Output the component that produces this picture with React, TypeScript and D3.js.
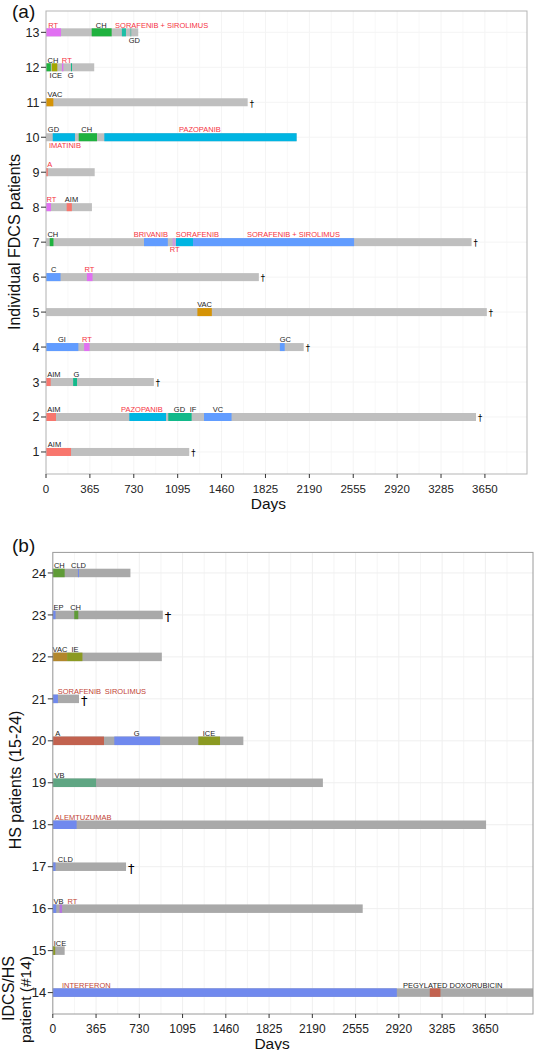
import React from "react";
import * as d3 from "d3";

// ---------- Panel (a): FDCS patients ----------
const patientsA = [1, 2, 3, 4, 5, 6, 7, 8, 9, 10, 11, 12, 13];
// follow-up end (days) per patient 1..13
const followUpA = [1191, 3576, 897, 2143, 3666, 1770, 3539, 382, 405, 2084, 1677, 401, 767];
const deathsA = [1, 2, 3, 4, 5, 6, 7, 11];
// [patient, start, end, treatment group]
const segmentsA: [number, number, number, string][] = [
  [13, 0, 125, "RT"], [13, 380, 546, "CH"], [13, 631, 665, "SS"], [13, 698, 710, "GDT"],
  [12, 0, 40, "CH"], [12, 48, 94, "ICE"], [12, 133, 144, "RT"], [12, 208, 216, "TEAL"],
  [11, 0, 61, "VAC"],
  [10, 56, 241, "CYAN"], [10, 272, 424, "CH"], [10, 485, 2084, "CYAN"],
  [9, 0, 15, "AIM"],
  [8, 0, 42, "RT"], [8, 172, 215, "AIM"],
  [7, 31, 62, "CH"], [7, 815, 1013, "BLUE"], [7, 1053, 1076, "RTL"], [7, 1081, 1223, "CYAN"], [7, 1223, 2562, "BLUE"],
  [6, 0, 121, "BLUE"], [6, 340, 387, "RT"],
  [5, 1259, 1379, "VAC"],
  [4, 0, 269, "BLUE"], [4, 317, 362, "RT"], [4, 1945, 1985, "BLUE"],
  [3, 0, 39, "AIM"], [3, 226, 258, "TEAL"],
  [2, 0, 83, "AIM"], [2, 693, 998, "CYAN"], [2, 1017, 1211, "TEAL"], [2, 1314, 1543, "BLUE"],
  [1, 0, 208, "AIM"],
];
// [patient, centre day, text, isRed, below]
const labelsA: [number, number, string, boolean, boolean][] = [
  [13, 60, "RT", true, false], [13, 459, "CH", false, false], [13, 962, "SORAFENIB + SIROLIMUS", true, false], [13, 734, "GD", false, true],
  [12, 58, "CH", false, false], [12, 173, "RT", true, false], [12, 82, "ICE", false, true], [12, 206, "G", false, true],
  [11, 75, "VAC", false, false],
  [10, 62, "GD", false, false], [10, 158, "IMATINIB", true, true], [10, 338, "CH", false, false], [10, 1280, "PAZOPANIB", true, false],
  [9, 31, "A", true, false],
  [8, 45, "RT", true, false], [8, 212, "AIM", false, false],
  [7, 57, "CH", false, false], [7, 872, "BRIVANIB", true, false], [7, 1070, "RT", true, true], [7, 1259, "SORAFENIB", true, false], [7, 2058, "SORAFENIB + SIROLIMUS", true, false],
  [6, 65, "C", false, false], [6, 362, "RT", true, false],
  [5, 1319, "VAC", false, false],
  [4, 133, "GI", false, false], [4, 340, "RT", true, false], [4, 1990, "GC", false, false],
  [3, 65, "AIM", false, false], [3, 252, "G", false, false],
  [2, 65, "AIM", false, false], [2, 798, "PAZOPANIB", true, false], [2, 1110, "GD", false, false], [2, 1223, "IF", false, false], [2, 1430, "VC", false, false],
  [1, 71, "AIM", false, false],
];

// ---------- Panel (b): HS / IDCS patients ----------
const patientsB = [14, 15, 16, 17, 18, 19, 20, 21, 22, 23, 24];
const followUpB = [4052, 100, 2615, 618, 3656, 2279, 1608, 221, 920, 928, 655];
const deathsB = [17, 21, 23];
const segmentsB: [number, number, number, string][] = [
  [24, 0, 100, "CH"], [24, 212, 218, "BLUE"],
  [23, 0, 23, "BLUE"], [23, 181, 215, "CH"],
  [22, 0, 121, "VAC"], [22, 121, 250, "OLIVE"],
  [21, 0, 43, "BLUE"],
  [20, 0, 432, "BRICK"], [20, 519, 905, "BLUE"], [20, 1228, 1411, "OLIVE"],
  [19, 0, 365, "SEA"],
  [18, 0, 201, "BLUE"],
  [17, 0, 23, "BLUE"],
  [16, 0, 29, "BLUE"], [16, 57, 78, "VIOLET"],
  [15, 0, 20, "OLIVE"],
  [14, 0, 2903, "BLUE"], [14, 3181, 3271, "BRICK"],
];
const labelsB: [number, number, string, boolean, boolean][] = [
  [24, 55, "CH", false, false], [24, 217, "CLD", false, false],
  [23, 49, "EP", false, false], [23, 192, "CH", false, false],
  [22, 61, "VAC", false, false], [22, 187, "IE", false, false],
  [21, 225, "SORAFENIB", true, false], [21, 613, "SIROLIMUS", true, false],
  [20, 41, "A", false, false], [20, 708, "G", false, false], [20, 1318, "ICE", false, false],
  [19, 57, "VB", false, false],
  [18, 256, "ALEMTUZUMAB", true, false],
  [17, 106, "CLD", false, false],
  [16, 49, "VB", false, false], [16, 165, "RT", true, false],
  [15, 61, "ICE", false, false],
  [14, 283, "INTERFERON", true, false], [14, 3375, "PEGYLATED DOXORUBICIN", false, false],
];

const dayTicks = [0, 365, 730, 1095, 1460, 1825, 2190, 2555, 2920, 3285, 3650];

const colorsA: Record<string, string> = {
  RT: "#e170f2", RTL: "#cf9be0", CH: "#1fb23f", SS: "#1dbfa6", GDT: "#7fbcae", ICE: "#a3a500",
  TEAL: "#12b98a", VAC: "#d59306", CYAN: "#00b5e2", AIM: "#f8766d", BLUE: "#619cff",
};
const colorsB: Record<string, string> = {
  CH: "#5f9b37", BLUE: "#7089ee", VAC: "#b2872c", OLIVE: "#8b9a22", BRICK: "#c2624f",
  SEA: "#5fa683", VIOLET: "#b574e0",
};

const FONT = "Arial, 'Liberation Sans', Helvetica, sans-serif";

type PanelProps = {
  left: number; right: number; top: number; bottom: number;
  maxDay: number; yDomain: [number, number];
  patients: number[]; followUp: number[]; deaths: number[];
  segments: [number, number, number, string][];
  labels: [number, number, string, boolean, boolean][];
  colors: Record<string, string>;
  gray: string; red: string; barH: number;
  yTickFont: number; xTickFont: number; tickBaseline: number; daysBaseline: number;
  daggerFont: number; gridColor: string; frameColor: string;
};

function Panel(p: PanelProps) {
  const x = d3.scaleLinear().domain([0, p.maxDay]).range([p.left, p.right]);
  const y = d3.scaleLinear().domain(p.yDomain).range([p.bottom, p.top]);
  const minor = d3.range(182.5, p.maxDay, 365);
  const h = p.barH;
  return (
    <g fontFamily={FONT}>
      <rect x={p.left} y={p.top} width={p.right - p.left} height={p.bottom - p.top} fill="#fff" />
      {dayTicks.concat(minor).map((t, i) => (
        <line key={"gv" + i} x1={x(t)} x2={x(t)} y1={p.top} y2={p.bottom} stroke={p.gridColor} strokeWidth={i < dayTicks.length ? 1 : 0.6} />
      ))}
      {p.patients.map((pt) => (
        <line key={"gh" + pt} x1={p.left} x2={p.right} y1={y(pt)} y2={y(pt)} stroke={p.gridColor} strokeWidth={1} />
      ))}
      {p.patients.map((pt, i) => (
        <rect key={"fu" + pt} x={x(0)} y={y(pt) - h / 2} width={x(p.followUp[i]) - x(0)} height={h} fill={p.gray} />
      ))}
      {p.segments.map(([pt, s, e, k], i) => (
        <rect key={"sg" + i} x={x(s)} y={y(pt) - h / 2} width={Math.max(1, x(e) - x(s))} height={h} fill={p.colors[k]} />
      ))}
      {p.labels.map(([pt, d, t, red, below], i) => (
        <text key={"lb" + i} x={x(d)} y={below ? y(pt) + h / 2 + 6.3 : y(pt) - h / 2 - 0.8}
          textAnchor="middle" fontSize={7.5} fill={red ? p.red : "#222"}>{t}</text>
      ))}
      {p.patients.map((pt, i) => p.deaths.includes(pt) ? (
        <text key={"dg" + pt} x={x(p.followUp[i]) + 2} y={y(pt)} dy="0.5em" fontSize={p.daggerFont}
          fontFamily="'DejaVu Sans', sans-serif" fill="#000">†</text>
      ) : null)}
      <rect x={p.left} y={p.top} width={p.right - p.left} height={p.bottom - p.top} fill="none" stroke={p.frameColor} strokeWidth={1} />
      {p.patients.map((pt) => (
        <g key={"yt" + pt}>
          <line x1={p.left - 5} x2={p.left} y1={y(pt)} y2={y(pt)} stroke="#333" />
          <text x={p.left - 6.5} y={y(pt)} dy="0.36em" textAnchor="end" fontSize={p.yTickFont} fill="#222">{pt}</text>
        </g>
      ))}
      {dayTicks.map((t) => (
        <g key={"xt" + t}>
          <line x1={x(t)} x2={x(t)} y1={p.bottom} y2={p.bottom + 4} stroke="#333" />
          <text x={x(t)} y={p.tickBaseline} textAnchor="middle" fontSize={p.xTickFont} fill="#222">{t}</text>
        </g>
      ))}
      <text x={(x(0) + x(3650)) / 2 + 3} y={p.daysBaseline} textAnchor="middle" fontSize={15.5} fill="#111">Days</text>
    </g>
  );
}

export default function App() {
  return (
    <svg width={534} height={1050} style={{ position: "absolute", left: 0, top: 0, background: "#fff" }}>
      <text x={12} y={18} fontSize={19} fontFamily={FONT} fill="#111">(a)</text>
      <Panel left={46} right={527} top={11} bottom={474} maxDay={4000} yDomain={[0.37, 13.61]}
        patients={patientsA} followUp={followUpA} deaths={deathsA} segments={segmentsA} labels={labelsA}
        colors={colorsA} gray="#bfbfbf" red="#f5333f" barH={8}
        yTickFont={12.5} xTickFont={11.5} tickBaseline={492.5} daysBaseline={508.5}
        daggerFont={8.5} gridColor="#f4f4f4" frameColor="#b5b5b5" />
      <text transform="translate(14,242) rotate(-90)" textAnchor="middle" dominantBaseline="central" fontSize={16} fontFamily={FONT} fill="#111">Individual FDCS patients</text>

      <text x={12} y={552} fontSize={19} fontFamily={FONT} fill="#111">(b)</text>
      <Panel left={52.8} right={533} top={552.4} bottom={1014} maxDay={4052} yDomain={[13.49, 24.49]}
        patients={patientsB} followUp={followUpB} deaths={deathsB} segments={segmentsB} labels={labelsB}
        colors={colorsB} gray="#a9a9a9" red="#c24536" barH={8.5}
        yTickFont={13} xTickFont={12} tickBaseline={1033} daysBaseline={1048.5}
        daggerFont={13} gridColor="#efefef" frameColor="#9a9a9a" />
      <text transform="translate(15,780) rotate(-90)" textAnchor="middle" dominantBaseline="central" fontSize={16} fontFamily={FONT} fill="#111">HS patients (15-24)</text>
      <text transform="translate(8,956) rotate(-90)" textAnchor="end" dominantBaseline="central" fontSize={16} fontFamily={FONT} fill="#111">IDCS/HS</text>
      <text transform="translate(25,956) rotate(-90)" textAnchor="end" dominantBaseline="central" fontSize={15.5} fontFamily={FONT} fill="#111">patient (#14)</text>
    </svg>
  );
}
